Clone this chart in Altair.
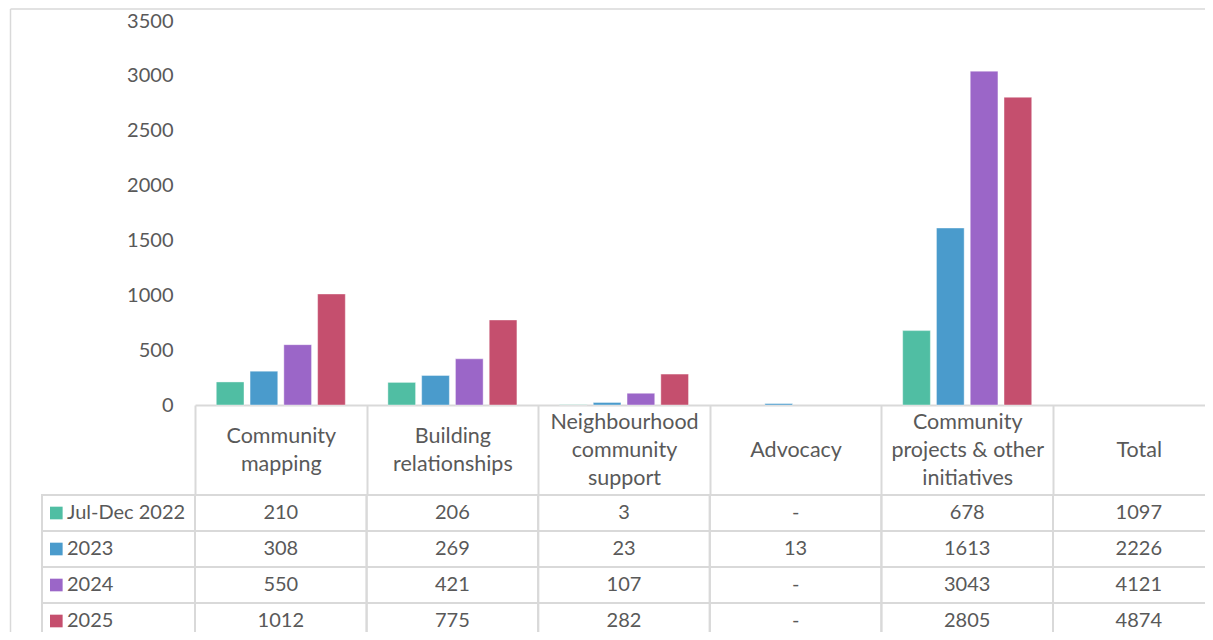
import json
import altair as alt
import pandas as pd

# ---------------- data ----------------
categories = [
    "Community mapping",
    "Building relationships",
    "Neighbourhood community support",
    "Advocacy",
    "Community projects & other initiatives",
    "Total",
]
header_labels = [
    "Community|mapping",
    "Building|relationships",
    "Neighbourhood|community|support",
    "Advocacy",
    "Community|projects & other|initiatives",
    "Total",
]
series = ["Jul-Dec 2022", "2023", "2024", "2025"]
colors = ["#50BEA3", "#4A9BCC", "#9B66C8", "#C54F6E"]

values_jul_dec_2022 = [210, 206, 3, None, 678, 1097]
values_2023 = [308, 269, 23, 13, 1613, 2226]
values_2024 = [550, 421, 107, None, 3043, 4121]
values_2025 = [1012, 775, 282, None, 2805, 4874]

y_ticks = [0, 500, 1000, 1500, 2000, 2500, 3000, 3500]

# ---------------- tables ----------------
series_values = [values_jul_dec_2022, values_2023, values_2024, values_2025]
records = []
for s, vals in zip(series, series_values):
    for c, v in zip(categories, vals):
        records.append({
            "category": c,
            "series": s,
            "value": v,
            "text": "-" if v is None else str(v),
        })
df = pd.DataFrame(records)
bars_df = df[(df["category"] != "Total") & df["value"].notna()].copy()
legend_df = pd.DataFrame({"series": series})
one_df = pd.DataFrame({"k": [0]})

# ---------------- layout / style ----------------
FONT = "Lato"
TXT = "#595959"
GRID = "#d9d9d9"
BAR_H = 384
HEADER_H = 90
ROW_H = 36
COL_W = 171.6
LEGEND_W = 153
LINE_H = 28

label_lines = [h.split("|") for h in header_labels]
label_expr = "indexof({c}, datum.value) >= 0 ? {p}[indexof({c}, datum.value)] : ''".format(
    c=json.dumps(categories), p=json.dumps(label_lines))


def pad_for(n):
    # first line centre so that an n-line block is centred in the header cell
    return HEADER_H / 2 - (n - 1) / 2 * LINE_H - HEADER_H


cats3 = [c for c, l in zip(categories, label_lines) if len(l) == 3]
cats2 = [c for c, l in zip(categories, label_lines) if len(l) == 2]
label_padding = {
    "condition": [
        {"test": "indexof({}, datum.value) >= 0".format(json.dumps(cats3)), "value": pad_for(3)},
        {"test": "indexof({}, datum.value) >= 0".format(json.dumps(cats2)), "value": pad_for(2)},
    ],
    "value": pad_for(1),
}

x_scale = alt.Scale(domain=categories, range=[0, COL_W * len(categories)],
                    paddingInner=0, paddingOuter=0)
y_scale = alt.Scale(domain=[0, 3500], nice=False)
row_scale = alt.Scale(domain=series,
                      range=[BAR_H + HEADER_H, BAR_H + HEADER_H + ROW_H * len(series)],
                      paddingInner=0, paddingOuter=0)
color_scale = alt.Scale(domain=series, range=colors)

bars = alt.Chart(bars_df).mark_bar(stroke="white", strokeWidth=0.8, strokeOpacity=0.5).encode(
    x=alt.X("category:N", scale=x_scale, title=None, axis=alt.Axis(
        labelExpr=label_expr, labelFont=FONT, labelFontSize=21.5, labelColor=TXT,
        labelAngle=0, labelBaseline="middle", labelAlign="center",
        labelLineHeight=LINE_H, labelPadding=label_padding,
        tickBand="extent", tickSize=HEADER_H, tickColor=GRID, tickWidth=2,
        domainColor=GRID, domainWidth=2,
        labelOverlap=False, labelBound=False, labelFlush=False)),
    xOffset=alt.XOffset("series:N", sort=series,
                        scale=alt.Scale(domain=series, paddingInner=0.18, paddingOuter=0.63)),
    y=alt.Y("value:Q", scale=y_scale, title=None, axis=alt.Axis(
        values=y_ticks, format="d", ticks=False, domain=False, grid=False, labelPadding=22,
        labelFont=FONT, labelFontSize=20, labelColor=TXT)),
    color=alt.Color("series:N", scale=color_scale, legend=None),
)

cells = alt.Chart(df).mark_rect(fillOpacity=0, stroke=GRID, strokeWidth=2).encode(
    x=alt.X("category:N", scale=x_scale, title=None),
    y=alt.Y("series:N", scale=row_scale, axis=None),
)
cell_text = alt.Chart(df).mark_text(font=FONT, fontSize=20, color=TXT,
                                    align="center", baseline="middle").encode(
    x=alt.X("category:N", scale=x_scale, title=None),
    y=alt.Y("series:N", scale=row_scale, axis=None),
    text="text:N",
)
legend_cells = alt.Chart(legend_df).mark_rect(fillOpacity=0, stroke=GRID, strokeWidth=2).encode(
    x=alt.value(-LEGEND_W), x2=alt.value(0),
    y=alt.Y("series:N", scale=row_scale, axis=None),
)
legend_sq = alt.Chart(legend_df).mark_point(shape="square", filled=True, size=160, opacity=1).encode(
    x=alt.value(-138.7),
    y=alt.Y("series:N", scale=row_scale, axis=None),
    color=alt.Color("series:N", scale=color_scale, legend=None),
)
legend_txt = alt.Chart(legend_df).mark_text(font=FONT, fontSize=20, color=TXT,
                                            align="left", baseline="middle").encode(
    x=alt.value(-128),
    y=alt.Y("series:N", scale=row_scale, axis=None),
    text="series:N",
)
frame_top = alt.Chart(one_df).mark_rule(color=GRID, strokeWidth=1.5).encode(
    x=alt.value(-184.5), x2=alt.value(1030), y=alt.value(-12))
frame_left = alt.Chart(one_df).mark_rule(color=GRID, strokeWidth=1.5).encode(
    x=alt.value(-184.5), y=alt.value(-12), y2=alt.value(640))

table = alt.layer(cells, legend_cells, cell_text, legend_sq, legend_txt, frame_top, frame_left)

chart = alt.layer(bars, table).resolve_scale(y="independent").properties(
    width=1010, height=BAR_H,
    autosize=alt.AutoSizeParams(type="none"),
    padding={"left": 187, "top": 13, "right": 0, "bottom": 227},
).configure_view(strokeWidth=0)

chart.save("out.html", embed_options={"renderer": "svg", "actions": False})
